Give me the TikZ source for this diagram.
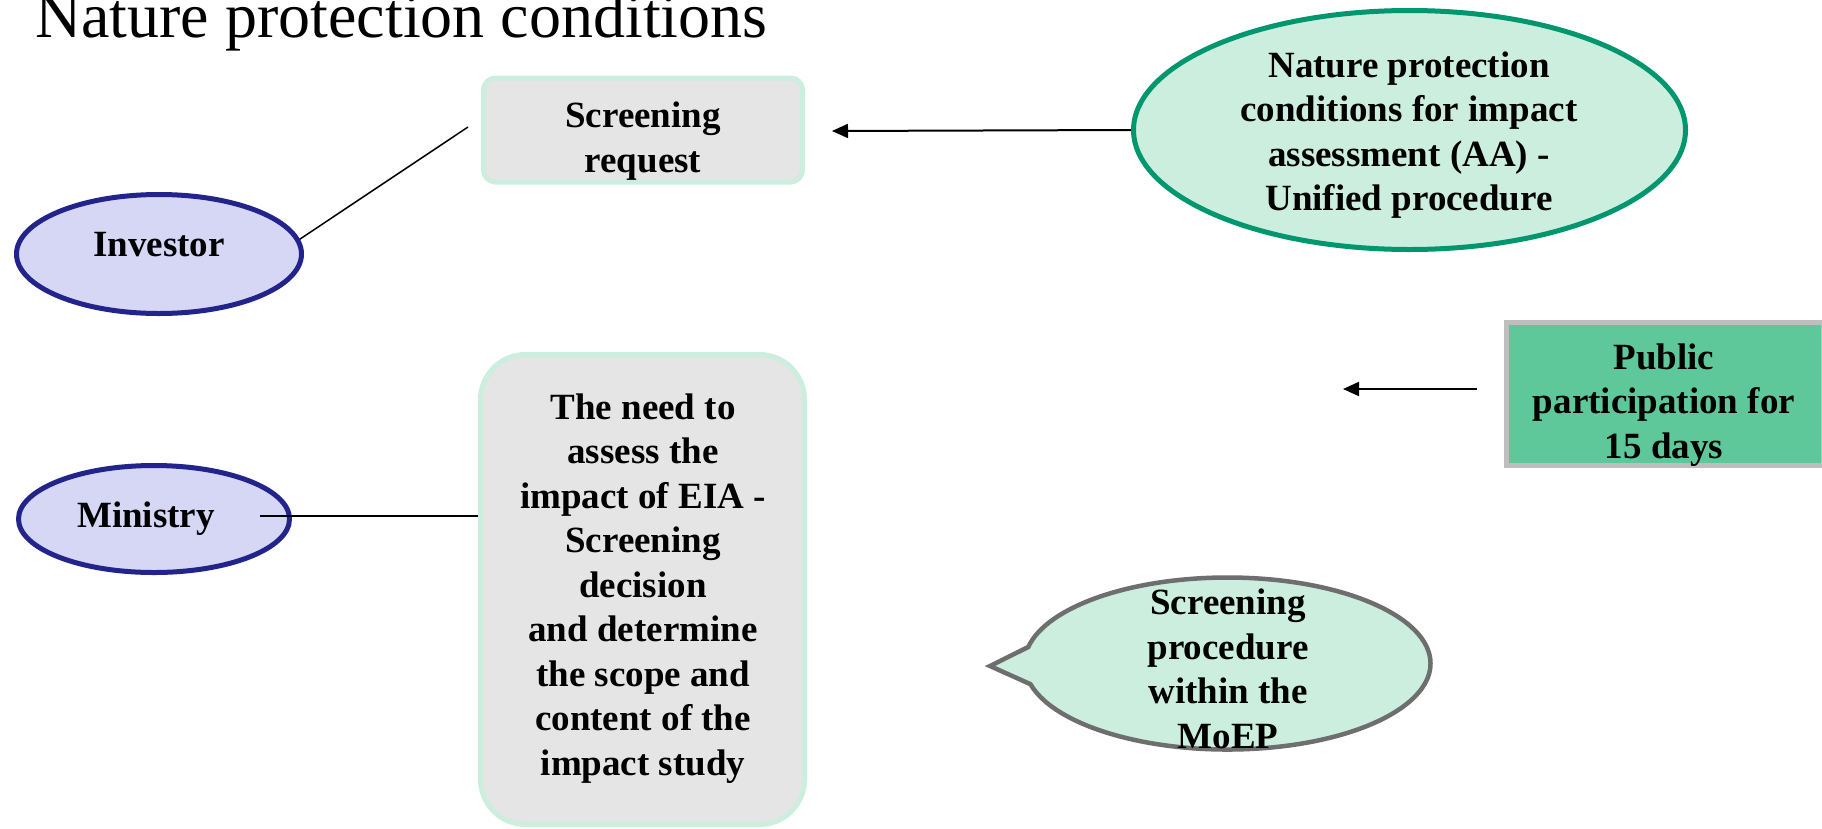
\documentclass[tikz,border=0pt]{standalone}
\usepackage{fontspec}
\setmainfont{Liberation Serif}
\usetikzlibrary{shapes.geometric,shapes.callouts,arrows.meta}
\definecolor{mint}{RGB}{204,238,223}
\definecolor{boxgray}{RGB}{229,229,229}
\definecolor{navy}{RGB}{35,35,140}
\definecolor{lavender}{RGB}{213,215,245}
\definecolor{natgreen}{RGB}{0,150,110}
\definecolor{pubgreen}{RGB}{95,200,155}
\definecolor{pubborder}{RGB}{190,190,190}
\definecolor{callborder}{RGB}{110,110,110}
\begin{document}
\begin{tikzpicture}[x=1pt,y=-1pt,
 lbl/.style={font=\fontsize{37}{44.5}\selectfont\bfseries, align=center, inner sep=0pt},
 greybox/.style={rectangle, draw=mint, fill=boxgray, line width=5pt, inner sep=0pt},
 person/.style={ellipse, draw=navy, fill=lavender, line width=5pt, inner sep=0pt},
 link/.style={line width=1.5pt, black},
 arrowlink/.style={line width=2pt, black, -{Triangle[length=16pt,width=14pt]}},
]
\useasboundingbox (0,0) rectangle (1822,828);
\fill[white] (0,0) rectangle (1822,828);

\node[anchor=base west, inner sep=0pt, font=\fontsize{64}{70}\selectfont] (title) at (35,37) {Nature protection conditions};

% Screening request
\node[greybox, rounded corners=12pt, minimum width=319pt, minimum height=104pt] (sr) at (643,130) {};
\node[lbl] (srt) at (643,141) {Screening\\request};

% Investor
\node[person, minimum width=285pt, minimum height=119pt] (inv) at (159,254) {};
\node[lbl] (invt) at (159,244.5) {Investor};

% Ministry
\node[person, minimum width=271pt, minimum height=107pt] (min) at (154,519) {};
\node[lbl] (mint) at (146,518.5) {Ministry};

% Nature protection ellipse
\node[ellipse, draw=natgreen, fill=mint, line width=5pt, inner sep=0pt, minimum width=552pt, minimum height=239pt] (nat) at (1409.5,130) {};
\node[lbl] (natt) at (1409,135) {Nature protection\\conditions for impact\\assessment (AA) -\\Unified procedure};

% Public participation
\node[rectangle, draw=pubborder, fill=pubgreen, line width=5pt, inner sep=0pt, minimum width=317pt, minimum height=143pt] (pub) at (1665,394) {};
\node[lbl] (pubt) at (1664,405) {Public\\participation for\\15 days};

% Big box
\node[greybox, rounded corners=45pt, minimum width=324pt, minimum height=470pt] (need) at (642.5,589.5) {};
\node[lbl] (needt) at (643,588.5) {The need to\\assess the\\impact of EIA -\\Screening\\decision\\and determine\\the scope and\\content of the\\impact study};

% Callout
\node[ellipse callout, draw=callborder, fill=mint, line width=4.5pt, inner sep=0pt, minimum width=406pt, minimum height=172pt, callout absolute pointer={(990,666)}, callout pointer arc=25] (call) at (1227.5,663.5) {};
\node[lbl] (callt) at (1228,669) {Screening\\procedure\\within the\\MoEP};

% connectors
\coordinate (srEnd) at (468,127);
\draw[link] (inv.6) -- (srEnd);
\coordinate (minStart) at (260,516);
\draw[link] (minStart) -- (minStart -| need.west);
\coordinate (natTip) at (832,131);
\draw[arrowlink] (nat.west) -- (natTip);
\coordinate (pubStart) at (1477,389);
\coordinate (pubTip) at (1343,389);
\draw[arrowlink] (pubStart) -- (pubTip);
\end{tikzpicture}
\end{document}
